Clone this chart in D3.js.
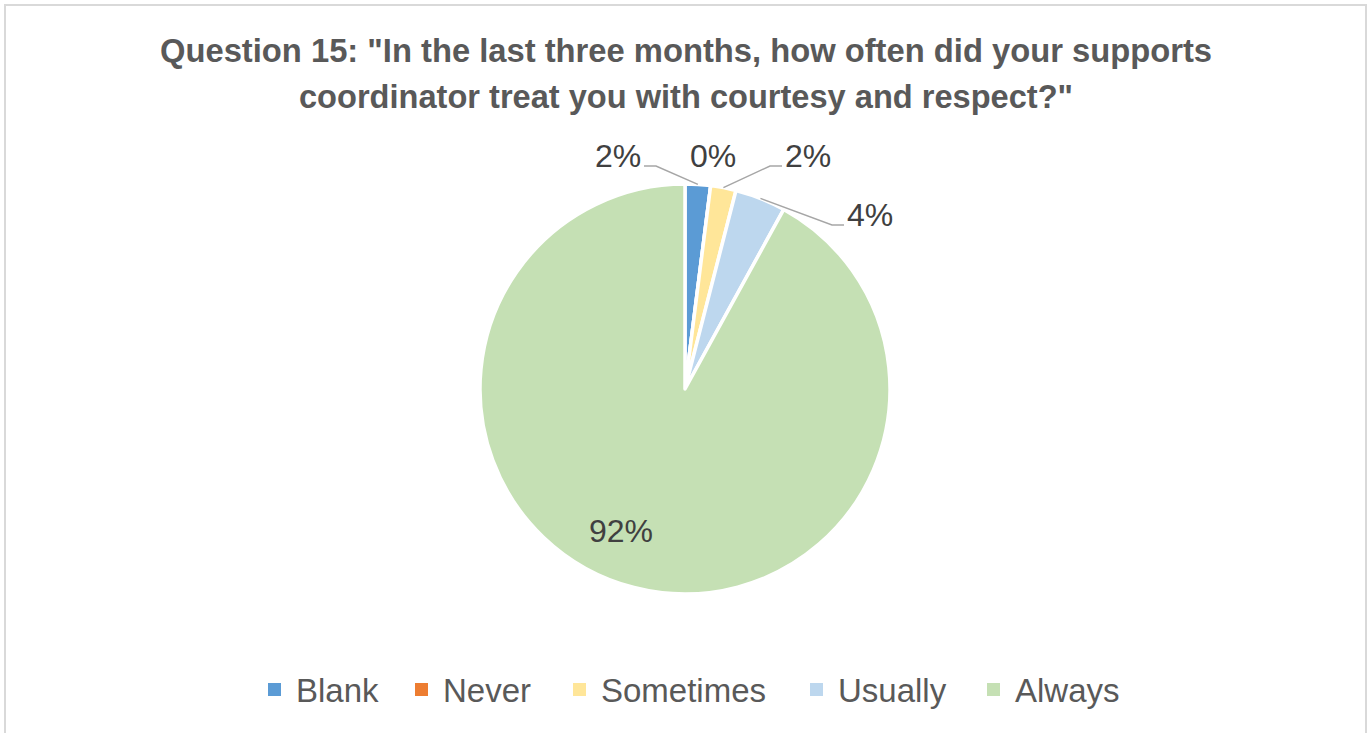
<!DOCTYPE html>
<html>
<head>
<meta charset="utf-8">
<script src="https://cdn.jsdelivr.net/npm/d3@7"></script>
<style>
  html, body { margin: 0; padding: 0; background: #fff; }
  svg { display: block; }
</style>
</head>
<body>
<svg id="chart" width="1372" height="733"></svg>
<script>
// Survey answers, share of respondents (%)
const categories = ["Blank", "Never", "Sometimes", "Usually", "Always"];
const shares = [2, 0, 2, 4, 92];
const valueLabels = ["2%", "0%", "2%", "4%", "92%"];
const colors = ["#5B9BD5", "#ED7D31", "#FFE699", "#BDD7EE", "#C5E0B4"];
const titleLines = [
  "Question 15: \"In the last three months, how often did your supports",
  "coordinator treat you with courtesy and respect?\""
];

const W = 1372, H = 733;
const svg = d3.select("#chart");

// Chart frame
svg.append("rect")
  .attr("x", 5).attr("y", 5)
  .attr("width", 1361).attr("height", 740)
  .attr("fill", "#fff")
  .attr("stroke", "#d9d9d9").attr("stroke-width", 2);

// Title
const titleWidths = [1052, 774];
svg.append("g").selectAll("text")
  .data(titleLines)
  .join("text")
  .attr("x", 686)
  .attr("y", (d, i) => 62 + i * 46)
  .attr("text-anchor", "middle")
  .attr("font-family", "'Liberation Sans', Arial, sans-serif")
  .attr("font-weight", "bold")
  .attr("font-size", 34)
  .attr("fill", "#595959")
  .attr("textLength", (d, i) => titleWidths[i])
  .attr("lengthAdjust", "spacingAndGlyphs")
  .text(d => d);

// Pie
const cx = 685, cy = 389, R = 205;
const pie = d3.pie().sort(null).value(d => d.v);
const arcs = pie(categories.map((c, i) => ({ c, v: shares[i], i })));
const arc = d3.arc().innerRadius(0).outerRadius(R);

const g = svg.append("g").attr("transform", `translate(${cx},${cy})`);
g.selectAll("path")
  .data(arcs)
  .join("path")
  .attr("d", arc)
  .attr("fill", d => colors[d.data.i])
  .attr("stroke", "#fff")
  .attr("stroke-width", 3.5)
  .attr("stroke-linejoin", "round");

// Label placement (offsets from pie centre) and leader-line side
const labelPos = [
  { dx: -67, dy: -234, side: -1, line: true },
  { dx: 28, dy: -234, side: 0, line: false },
  { dx: 123, dy: -234, side: 1, line: true },
  { dx: 185, dy: -175, side: 1, line: true },
  { dx: -64, dy: 141, side: 0, line: false }
];

const edgeArc = d3.arc().innerRadius(R).outerRadius(R);

arcs.forEach((a, k) => {
  const p = labelPos[k];
  if (p.line) {
    const start = edgeArc.centroid(a);
    const end = [p.dx - p.side * 26, p.dy + 11];
    const elbow = [end[0] - p.side * 12, end[1]];
    g.append("polyline")
      .attr("points", [start, elbow, end].map(q => q.join(",")).join(" "))
      .attr("fill", "none")
      .attr("stroke", "#a6a6a6")
      .attr("stroke-width", 1.5);
  }
  g.append("text")
    .attr("x", p.dx)
    .attr("y", p.dy)
    .attr("dy", "0.36em")
    .attr("text-anchor", "middle")
    .attr("font-family", "'Liberation Sans', Arial, sans-serif")
    .attr("font-size", 32)
    .attr("fill", "#404040")
    .text(valueLabels[k]);
});

// Legend
const legendX = [268, 415, 573, 810, 987];
const legend = svg.append("g").selectAll("g")
  .data(categories)
  .join("g")
  .attr("transform", (d, i) => `translate(${legendX[i]},683)`);
legend.append("rect")
  .attr("width", 13).attr("height", 13)
  .attr("fill", (d, i) => colors[i]);
legend.append("text")
  .attr("x", 28).attr("y", 7)
  .attr("dy", "0.36em")
  .attr("font-family", "'Liberation Sans', Arial, sans-serif")
  .attr("font-size", 33)
  .attr("fill", "#595959")
  .text(d => d);
</script>
</body>
</html>
